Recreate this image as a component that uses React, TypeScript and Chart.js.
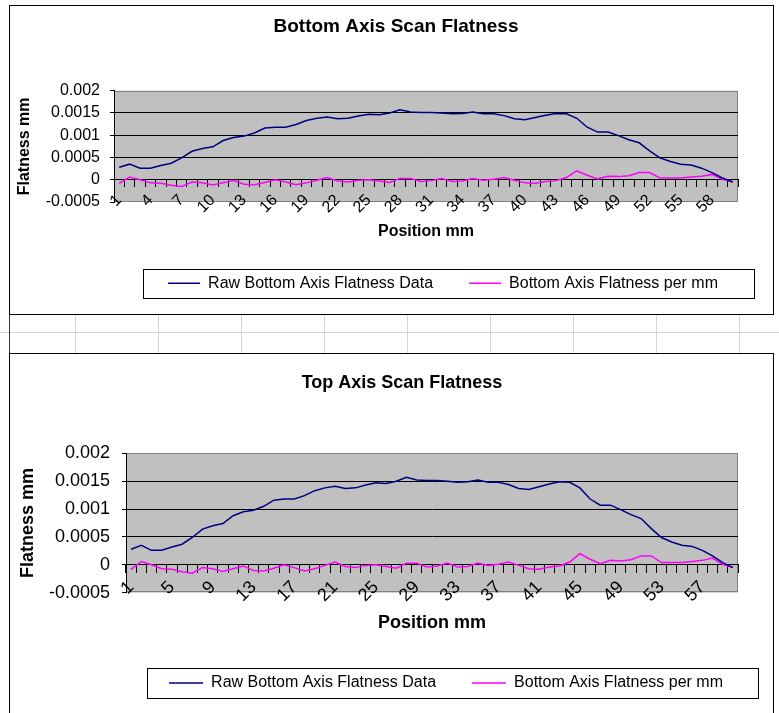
import React, { useEffect, useRef } from "react";
import { Chart, registerables } from "chart.js";

Chart.register(...registerables);

// ---- data ----
const positions = [
  "1", "2", "3", "4", "5", "6", "7", "8", "9", "10",
  "11", "12", "13", "14", "15", "16", "17", "18", "19", "20",
  "21", "22", "23", "24", "25", "26", "27", "28", "29", "30",
  "31", "32", "33", "34", "35", "36", "37", "38", "39", "40",
  "41", "42", "43", "44", "45", "46", "47", "48", "49", "50",
  "51", "52", "53", "54", "55", "56", "57", "58", "59", "60",
];

const rawBottomAxisFlatness = [
  0.00028, 0.00035, 0.00026, 0.00026, 0.00032, 0.00037, 0.00049, 0.00064, 0.0007, 0.00074,
  0.00088, 0.00095, 0.00098, 0.00105, 0.00116, 0.00118, 0.00118, 0.00124, 0.00133, 0.00138,
  0.00141, 0.00137, 0.00138, 0.00143, 0.00147, 0.00146, 0.0015, 0.00157, 0.00152, 0.00151,
  0.00151, 0.0015, 0.00148, 0.00149, 0.00152, 0.00148, 0.00148, 0.00144, 0.00137, 0.00135,
  0.0014, 0.00145, 0.00149, 0.00148, 0.00138, 0.00118, 0.00107, 0.00107, 0.00099, 0.0009,
  0.00083, 0.00065, 0.00049, 0.00041, 0.00035, 0.00033, 0.00026, 0.00016, 0.00004, -0.00005,
];

const bottomAxisFlatnessPerMm = [
  -0.00008, 0.00006, 0.0, -0.00007, -0.00008, -0.000125, -0.00015, -0.00005, -0.00007, -0.00012,
  -0.00007, -0.00002, -0.0001, -0.00011, -0.00006, 0.0, -0.00005, -0.00011, -0.00007, -0.00001,
  0.00005, -0.00003, -0.00005, -0.00001, 0.0, -0.00003, -0.00006, 0.00003, 0.00003, -0.00004,
  -0.00002, 0.00003, -0.00004, -0.00003, 0.00003, -0.00001, 0.00001, 0.00005, -0.00001, -0.00007,
  -0.00008, -0.00004, -0.00002, 0.00005, 0.0002, 0.0001, 0.00002, 0.00008, 0.00007, 0.00009,
  0.00016, 0.00016, 0.00004, 0.00004, 0.00004, 0.00006, 0.00008, 0.00012, 0.00001, -0.00005,
];

const yTickValues = [-0.0005, 0, 0.0005, 0.001, 0.0015, 0.002];

const seriesNames = ["Raw Bottom Axis Flatness Data", "Bottom Axis Flatness per mm"];
const seriesColors = ["#000080", "#FF00FF"];

const FONT = "'Liberation Sans', Arial, Helvetica, sans-serif";

type Spec = {
  title: string;
  titleSize: number;
  titlePadTop: number;
  titlePadBottom: number;
  axisFont: number;
  labelEvery: number;
  padLeft: number;
  padRight: number;
  padBottom: number;
  yAxisWidth: number;
  yTitlePad: number;
  yTickPad: number;
  xTickLen: number;
  xTickPad: number;
  xAxisHeight: number;
  rightPad: number;
  legendTitleH: number;
  legendBoxW: number;
  boxLeft: number;
  boxRight: number;
  boxHalf: number;
};

const framePlugin = {
  id: "excelFrame",
  beforeDraw(chart: any) {
    const { ctx, chartArea: a } = chart;
    ctx.save();
    ctx.fillStyle = "#C0C0C0";
    ctx.fillRect(a.left, a.top, a.right - a.left, a.bottom - a.top);
    ctx.strokeStyle = "#808080";
    ctx.lineWidth = 1;
    ctx.strokeRect(
      Math.round(a.left) + 0.5,
      Math.round(a.top) + 0.5,
      Math.round(a.right - a.left) - 1,
      Math.round(a.bottom - a.top) - 1
    );
    ctx.restore();
  },
  afterDraw(chart: any, _args: any, opts: any) {
    const lg = chart.legend;
    if (!lg || !lg.legendHitBoxes || !lg.legendHitBoxes.length) return;
    const hb = lg.legendHitBoxes;
    const last = hb[hb.length - 1];
    const end = last.left + last.width;
    const cy = hb[0].top + hb[0].height / 2;
    const ctx = chart.ctx;
    ctx.save();
    ctx.strokeStyle = "#000";
    ctx.lineWidth = 1;
    ctx.strokeRect(
      Math.round(end - opts.boxLeft) + 0.5,
      Math.round(cy - opts.boxHalf) + 0.5,
      Math.round(opts.boxLeft + opts.boxRight),
      Math.round(opts.boxHalf * 2)
    );
    ctx.restore();
  },
};

function makeConfig(spec: Spec): any {
  const font = (size: number, bold = false) => ({
    family: FONT,
    size,
    weight: bold ? "bold" : "normal",
  });
  return {
    type: "line",
    data: {
      labels: positions,
      datasets: [
        {
          label: seriesNames[0],
          data: rawBottomAxisFlatness,
          borderColor: seriesColors[0],
          backgroundColor: seriesColors[0],
          borderWidth: 1.5,
          pointRadius: 0,
          pointHoverRadius: 0,
          fill: false,
          tension: 0,
        },
        {
          label: seriesNames[1],
          data: bottomAxisFlatnessPerMm,
          borderColor: seriesColors[1],
          backgroundColor: seriesColors[1],
          borderWidth: 1.5,
          pointRadius: 0,
          pointHoverRadius: 0,
          fill: false,
          tension: 0,
        },
      ],
    },
    options: {
      responsive: false,
      animation: false,
      events: [],
      layout: {
        padding: { left: spec.padLeft, right: spec.padRight, top: 0, bottom: spec.padBottom },
      },
      scales: {
        x: {
          type: "category",
          position: { y: 0 },
          offset: true,
          grid: {
            display: true,
            drawOnChartArea: false,
            drawTicks: true,
            tickLength: spec.xTickLen,
            tickColor: "#000",
            color: "#000",
            offset: true,
            lineWidth: 1,
          },
          border: { display: true, color: "#000", width: 1 },
          ticks: {
            autoSkip: false,
            minRotation: 45,
            maxRotation: 45,
            padding: spec.xTickPad,
            color: "#000",
            font: font(spec.axisFont),
            callback: (_v: any, index: number) =>
              index % spec.labelEvery === 0 ? positions[index] : "",
          },
          title: {
            display: true,
            text: "Position mm",
            color: "#000",
            font: font(spec.axisFont, true),
            padding: 0,
          },
          afterFit: (s: any) => {
            s.height = spec.xAxisHeight;
            s.paddingRight = spec.rightPad;
          },
        },
        y: {
          type: "linear",
          position: "left",
          min: yTickValues[0],
          max: yTickValues[yTickValues.length - 1],
          grid: {
            display: true,
            drawOnChartArea: true,
            drawTicks: true,
            tickLength: 4,
            tickColor: "#000",
            lineWidth: 1,
            color: (c: any) =>
              c.index === 0 || c.index === yTickValues.length - 1 ? "rgba(0,0,0,0)" : "#000",
          },
          border: { display: true, color: "#000", width: 1 },
          ticks: {
            stepSize: 0.0005,
            padding: spec.yTickPad,
            color: "#000",
            font: font(spec.axisFont),
            callback: (v: any) => String(Number(Number(v).toFixed(4))),
          },
          title: {
            display: true,
            text: "Flatness mm",
            color: "#000",
            font: font(spec.axisFont, true),
            padding: { top: spec.yTitlePad, bottom: 0 },
          },
          afterFit: (s: any) => {
            s.width = spec.yAxisWidth;
          },
        },
      },
      plugins: {
        title: {
          display: true,
          text: spec.title,
          color: "#000",
          font: font(spec.titleSize, true),
          padding: { top: spec.titlePadTop, bottom: spec.titlePadBottom },
        },
        legend: {
          display: true,
          position: "bottom",
          align: "end",
          title: {
            display: true,
            text: "",
            font: { family: FONT, size: 10 },
            padding: { top: spec.legendTitleH - 12, bottom: 0 },
          },
          labels: {
            boxWidth: spec.legendBoxW,
            boxHeight: 1.5,
            padding: 36,
            color: "#000",
            font: font(16),
            generateLabels: (chart: any) =>
              Chart.defaults.plugins.legend.labels
                .generateLabels(chart)
                .map((l: any) => ({ ...l, fillStyle: l.strokeStyle, lineWidth: 0 })),
          },
        },
        tooltip: { enabled: false },
        excelFrame: { boxLeft: spec.boxLeft, boxRight: spec.boxRight, boxHalf: spec.boxHalf },
      },
    },
    plugins: [framePlugin],
  };
}

const bottomSpec: Spec = {
  title: "Bottom Axis Scan Flatness",
  titleSize: 19,
  titlePadTop: 9.6,
  titlePadBottom: 52.3,
  axisFont: 16,
  labelEvery: 3,
  padLeft: 28,
  padRight: 19,
  padBottom: 12.8,
  yAxisWidth: 76,
  yTitlePad: -22.6,
  yTickPad: 10,
  xTickLen: 7,
  xTickPad: 4,
  xAxisHeight: 61.3,
  rightPad: 35,
  legendTitleH: 37.2,
  legendBoxW: 32,
  boxLeft: 575.5,
  boxRight: 35.5,
  boxHalf: 14.5,
};

const topSpec: Spec = {
  title: "Top Axis Scan Flatness",
  titleSize: 18,
  titlePadTop: 18.2,
  titlePadBottom: 59.5,
  axisFont: 18,
  labelEvery: 4,
  padLeft: 35,
  padRight: 14,
  padBottom: 19,
  yAxisWidth: 81,
  yTitlePad: -27.5,
  yTickPad: 12,
  xTickLen: 8,
  xTickPad: 4,
  xAxisHeight: 69,
  rightPad: 35,
  legendTitleH: 46.3,
  legendBoxW: 34,
  boxLeft: 576,
  boxRight: 35,
  boxHalf: 15,
};

function ExcelChart({ spec, width, height }: { spec: Spec; width: number; height: number }) {
  const ref = useRef<HTMLCanvasElement | null>(null);
  useEffect(() => {
    if (!ref.current) return;
    const chart = new Chart(ref.current, makeConfig(spec));
    return () => chart.destroy();
  }, [spec]);
  return <canvas ref={ref} width={width} height={height} style={{ display: "block", width, height }} />;
}

const columnLines = [75, 158, 241, 324, 407, 490, 573, 656, 739];

export default function App() {
  return (
    <div
      style={{
        position: "absolute",
        left: 0,
        top: 0,
        width: 779,
        height: 713,
        overflow: "hidden",
        background: "#fff",
      }}
    >
      {/* spreadsheet cells between the two charts */}
      <div style={{ position: "absolute", left: 0, top: 332, width: 779, height: 1, background: "#d6d6d6" }} />
      {columnLines.map((x) => (
        <div
          key={x}
          style={{ position: "absolute", left: x, top: 315, width: 1, height: 38, background: "#d6d6d6" }}
        />
      ))}
      <div style={{ position: "absolute", left: 9, top: 315, width: 1, height: 38, background: "#333" }} />

      <div
        style={{
          position: "absolute",
          left: 9,
          top: 5,
          width: 765,
          height: 310,
          border: "1px solid #000",
          boxSizing: "border-box",
          background: "#fff",
        }}
      >
        <ExcelChart spec={bottomSpec} width={763} height={308} />
      </div>

      <div
        style={{
          position: "absolute",
          left: 9,
          top: 353,
          width: 765,
          height: 368,
          border: "1px solid #000",
          boxSizing: "border-box",
          background: "#fff",
        }}
      >
        <ExcelChart spec={topSpec} width={763} height={366} />
      </div>
    </div>
  );
}
